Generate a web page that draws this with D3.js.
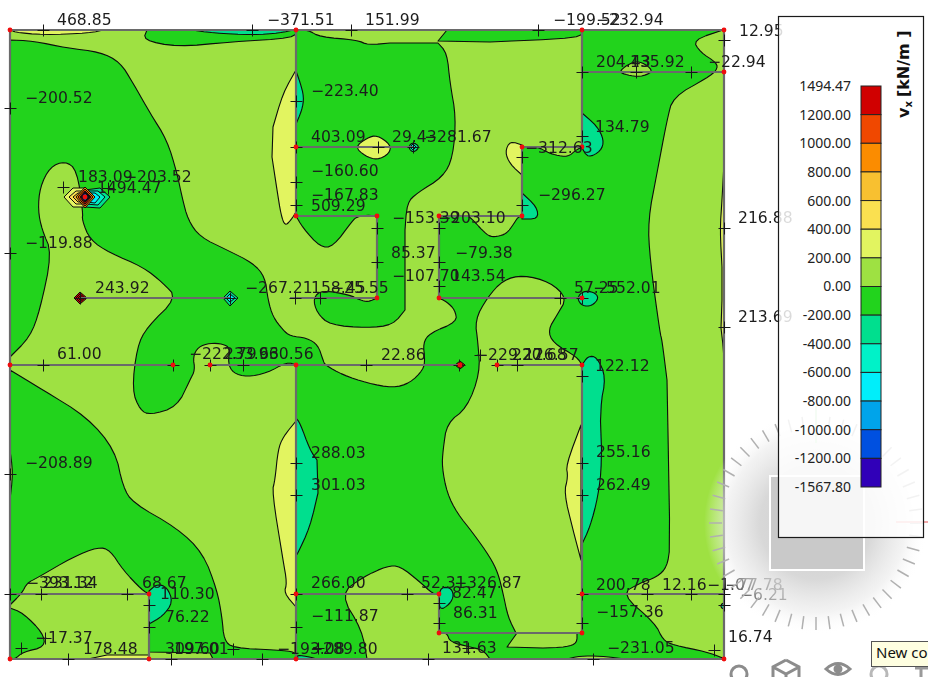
<!DOCTYPE html>
<html><head><meta charset="utf-8">
<script src="https://cdn.jsdelivr.net/npm/d3@7/dist/d3.min.js"></script>
<style>html,body{margin:0;padding:0;background:#fff;overflow:hidden}svg{display:block}</style>
</head><body><svg id="c" width="928" height="677"></svg>
<script>
// Model extent of the slab plan
const planWidth = 714, planHeight = 629;

// Legend: band limits (top to bottom) and colours of the 14 bands
const legendTicks = ["1494.47","1200.00","1000.00","800.00","600.00","400.00","200.00","0.00","-200.00","-400.00","-600.00","-800.00","-1000.00","-1200.00","-1567.80"];
const bandColors = ["#d00000","#f04800","#fb8c00","#f8c030","#fae050","#e2f460","#9ee142","#22d31d","#00df8e","#00f2c8","#00eefa","#00a4ea","#0050e0","#3000b8"];

// Isoband rings in plan coordinates, one list per band
const band_m200_0 = [
 [[0,10],[23,11],[57,18],[90,22],[110,32],[123,53],[140,83],[157,110],[167,143],[172,167],[178,190],[190,207],[217,220],[243,233],[255,247],[258,270],[263,287],[273,300],[280,306],[297,308],[308,315],[313,330],[315,335],[333,345],[357,353],[383,358],[400,353],[413,340],[415,330],[413,313],[420,303],[447,292],[445,280],[437,272],[429,268],[429,186],[458,186],[463,190],[472,200],[480,207],[490,206],[497,203],[503,195],[508,187],[512,186],[512,117],[528,117],[537,122],[545,125],[558,127],[566,120],[572,117],[572,0],[713,0],[683,10],[690,22],[707,33],[707,40],[697,48],[663,67],[657,90],[647,143],[638,190],[640,230],[650,303],[652,310],[657,350],[658,403],[660,517],[657,537],[647,547],[630,553],[611,564],[645,593],[653,610],[663,615],[697,622],[713,628],[714,629],[480,629],[473,620],[460,617],[440,612],[437,603],[429,603],[429,564],[423,564],[410,552],[390,536],[377,536],[353,547],[330,564],[352,600],[357,629],[286,629],[286,335],[277,332],[257,343],[237,347],[223,343],[218,333],[220,318],[213,314],[200,313],[188,317],[183,327],[185,340],[180,350],[167,377],[140,385],[130,380],[122,360],[127,317],[137,297],[167,268],[153,253],[133,237],[100,223],[80,210],[72,190],[73,183],[67,140],[55,131],[40,137],[30,157],[28,180],[32,200],[42,223],[30,280],[20,307],[0,327]],
 [[286,0],[298,0],[310,7],[347,10],[358,15],[380,13],[428,13],[437,23],[440,53],[446,87],[443,127],[433,147],[407,163],[397,173],[395,200],[395,280],[383,295],[357,298],[320,295],[307,283],[303,268],[312,260],[340,265],[350,270],[358,272],[367,268],[367,186],[357,185],[347,187],[343,190],[323,217],[310,217],[293,198],[286,186]],
 [[0,340],[33,360],[77,387],[105,420],[113,457],[123,473],[167,498],[193,523],[207,560],[212,587],[214,610],[223,618],[267,620],[286,622],[286,629],[203,629],[200,623],[139,622],[139,564],[132,560],[113,540],[100,520],[88,517],[63,527],[27,548],[17,553],[12,563],[0,575]],
 [[0,578],[13,583],[33,603],[35,617],[13,622],[5,629],[0,629]],
 [[137,0],[133,10],[167,17],[220,12],[285,8],[286,0]],
 [[437,0],[428,11],[480,12],[572,8],[572,0]]
];
const band_0_200 = [
 [[567,327],[543,313],[538,300],[547,285],[557,268],[540,252],[513,245],[493,250],[477,268],[465,290],[468,313],[470,343],[457,378],[437,393],[433,420],[432,437],[437,463],[447,483],[463,503],[480,527],[488,543],[493,563],[498,587],[506,603],[572,603],[572,335]],
 [[497,617],[507,603],[567,603],[567,613],[557,617],[533,618]],
 [[609,42],[617,35],[627,31],[637,35],[643,42],[630,47],[617,45]],
 [[0,420],[3,443],[0,470]],
 [[557,629],[570,626],[590,626],[615,629]]
];
const band_200_400 = [
 [[3,0],[3,2],[33,5],[80,3],[93,0]],
 [[286,40],[273,63],[263,97],[262,127],[267,160],[271,185],[275,196],[281,190],[286,182]],
 [[345,117],[357,108],[367,105],[381,115],[379,124],[367,130],[355,126]],
 [[512,115],[500,111],[495,122],[500,134],[512,145]],
 [[286,391],[273,407],[268,420],[265,450],[262,462],[273,530],[277,553],[274,563],[286,577]],
 [[571,395],[556,435],[558,447],[554,463],[563,500],[571,530]],
 [[714,133],[712,170],[710,200],[712,237],[712,270],[711,298],[713,315],[714,330]],
 [[78,629],[97,625],[139,625],[139,629]]
];
const band_m400_m200 = [
 [[182,0],[203,3],[243,5],[270,3],[283,0]],
 [[286,41],[290,52],[294,67],[292,80],[286,94]],
 [[398,117],[403,112],[410,117],[403,123]],
 [[572,83],[587,96],[594,110],[591,121],[578,128],[572,118]],
 [[512,163],[527,177],[528,189],[512,189]],
 [[567,268],[573,261],[584,262],[589,268],[582,276],[572,276]],
 [[572,335],[578,326],[587,327],[596,347],[590,377],[592,433],[588,467],[580,497],[572,514]],
 [[286,388],[290,393],[300,420],[307,430],[308,463],[300,497],[287,525],[286,525]],
 [[139,561],[147,554],[157,557],[163,572],[153,586],[139,594]],
 [[429,558],[440,557],[444,565],[440,574],[429,581]],
 [[287,625],[300,627],[307,629],[287,629]],
 [[710,576],[714,572],[714,580]]
];
// Peak at the column head (value, ring), outermost first
const peakRings = [
 [300,[[54,167],[63,158],[75,158],[75,177],[63,177]]],
 [500,[[59,167],[66,161],[75,161],[75,174],[66,174]]],
 [700,[[63,167],[68,163],[75,163],[75,172],[68,172]]],
 [-300,[[75,160],[90,158],[100,167],[90,178],[75,177]]],
 [-500,[[75,161],[88,161],[95,167],[88,175],[75,174]]],
 [-700,[[76,163],[85,163],[90,167],[85,173],[76,172]]],
 [900,[[66,167],[75,157],[85,167],[75,178]]],
 [1100,[[68,167],[75,159],[83,167],[75,176]]],
 [1300,[[70,167],[75,161],[81,167],[75,174]]],
 [-1400,[[71,167],[75,162],[80,167],[75,172]]],
 [-1100,[[72,167],[75,163],[79,167],[75,171]]],
 [-900,[[73,167],[75,165],[78,167],[75,169]]]
];
// Small node peaks (value, ring)
const nodePeaks = [
 [1300,[[64,268],[70,262],[77,268],[70,274]]],
 [1300,[[66,268],[70,264],[75,268],[70,272]]],
 [1300,[[68,268],[70,266],[73,268],[70,270]]],
 [-300,[[213,268],[220,261],[228,268],[220,276]]],
 [-700,[[216,268],[220,264],[225,268],[220,272]]],
 [-700,[[400,117],[403,114],[406,117],[403,120]]],
 [1300,[[445,335],[450,331],[455,335],[450,339]]],
 [1300,[[447,335],[450,333],[453,335],[450,337]]]
];

// Wall axes: [u1, v1, u2, v2]
const wallSegments = [
 [0,0,714,0],[0,629,714,629],[0,0,0,629],[714,0,714,629],
 [286,0,286,186],[286,335,286,629],[286,117,403,117],[286,186,367,186],[367,186,367,268],
 [280,268,367,268],[70,268,220,268],[429,186,429,268],[429,186,512,186],[512,117,512,186],
 [512,117,572,117],[572,0,572,117],[572,42,714,42],[429,268,572,268],
 [0,335,163,335],[200,335,450,335],[487,335,572,335],[572,335,572,603],
 [0,564,139,564],[139,564,139,629],[286,564,429,564],[429,564,429,603],[429,603,572,603],[572,564,714,564]
];
// Mesh points
const crossU = [33,242,0,53,286,286,286,286,98,341,528,403,368,512,512,572,572,714,626,681,714,714,0,70,220,285,33,163,200,233,310,367,367,429,429,429,356,449,470,487,507,550,572,572,0,286,286,0,31,117,139,139,11,58,161,252,223,35,286,286,397,429,429,418,572,572,572,572,637,681,714,714,704,583,458,308];
const crossV = [0,0,78,157,71,117,152,175,158,0,0,117,117,127,175,42,106,10,42,42,198,297,223,268,268,268,335,335,335,335,268,198,232,198,232,256,335,335,325,335,335,268,268,346,444,433,465,564,564,564,575,597,618,629,629,629,619,608,597,564,564,573,593,629,433,465,564,593,564,564,564,575,620,629,618,618];
const nodeU = [0,286,572,714,714,286,286,367,429,512,512,572,75,367,429,572,0,163,200,286,450,487,572,139,429,429,572,0,139,286,714,572,286];
const nodeV = [0,0,0,0,42,117,186,186,186,186,117,117,167,268,268,268,335,335,335,335,335,335,335,564,564,603,603,629,629,629,629,564,564];

// Result labels: text, left edge (plan u), baseline (plan v)
const labelText = ["468.85","−371.51","151.99","−199.52","−232.94","12.95","204.43","135.92","−22.94","−223.40","−200.52","403.09","29.43","−281.67","134.79","−312.63","−160.60","−167.83","509.29","183.09","−203.52","1494.47","−153.39","−203.10","−296.27","−119.88","85.37","−79.38","−107.70","143.54","243.92","−267.21","158.45","−25.55","57.25","−552.01","216.88","213.69","61.00","−222.79","233.96","630.56","22.86","−229.27","220.68","126.57","122.12","288.03","301.03","255.16","262.49","−208.89","−393.12","231.34","68.67","110.30","76.22","−17.37","178.48","309.60","197.01","−193.08","−289.80","266.00","−111.87","52.31","−326.87","82.47","86.31","131.63","200.78","12.16","−1.07","−77.78","−6.21","−157.36","16.74","−231.05"];
const labelU = [47,257,355,543,586,729,586,620,698,301,15,301,382,414,585,515,301,301,301,68,114,87,382,428,528,15,381,445,382,441,85,235,301,321,564,583,728,728,47,179,214,249,371,465,502,514,585,301,301,586,586,15,16,33,132,150,155,25,73,155,164,267,300,301,301,411,444,442,443,432,586,652,697,715,730,586,718,597];
const labelV = [-5,-5,-5,-5,-5,6,37,37,37,66,73,112,112,112,102,123,146,170,181,152,152,163,193,193,170,218,228,228,251,251,263,263,263,263,263,263,193,292,329,329,329,329,330,330,330,330,341,428,460,427,460,438,558,558,558,569,592,613,624,624,624,624,624,558,591,558,558,568,588,623,560,560,560,560,570,587,612,623];

const xPlan = d3.scaleLinear().domain([0, planWidth]).range([10, 724]);
const yPlan = d3.scaleLinear().domain([0, planHeight]).range([30, 659]);
const colorOf = d3.scaleThreshold()
  .domain([-1200,-1000,-800,-600,-400,-200,0,200,400,600,800,1000,1200])
  .range(bandColors.slice().reverse());
// Round the isolines between mesh points, leaving corners on walls sharp
function rounded(ring){
  let pts = ring;
  for (let pass = 0; pass < 2; pass++){
    const out = [];
    pts.forEach((p,i) => {
      const a = pts[(i+pts.length-1)%pts.length], b = pts[(i+1)%pts.length];
      const wall = q => (Math.abs(q[0]-p[0])<=1 || Math.abs(q[1]-p[1])<=1) && Math.hypot(q[0]-p[0],q[1]-p[1])>=25;
      if (wall(a) || wall(b)) out.push(p);
      else { out.push([p[0]+.25*(a[0]-p[0]),p[1]+.25*(a[1]-p[1])]); out.push([p[0]+.25*(b[0]-p[0]),p[1]+.25*(b[1]-p[1])]); }
    });
    pts = out;
  }
  return pts;
}
const linePath = d3.line().x(d => xPlan(d[0])).y(d => yPlan(d[1])).curve(d3.curveLinearClosed);
const ringPath = r => linePath(rounded(r));

const svg = d3.select("#c");
const defs = svg.append("defs");
const soft = defs.append("filter").attr("id","soft").attr("x",-0.02).attr("y",-0.02).attr("width",1.04).attr("height",1.04);
soft.append("feGaussianBlur").attr("stdDeviation",0.35);
const glow = defs.append("radialGradient").attr("id","glow");
[[0,"#cccccc",1],[0.5,"#d6d6d6",0.95],[0.8,"#ececec",0.65],[1,"#ffffff",0]].forEach(s =>
  glow.append("stop").attr("offset",s[0]).attr("stop-color",s[1]).attr("stop-opacity",s[2]));

const plan = svg.append("g").attr("filter","url(#soft)");
plan.append("rect").attr("x",xPlan(0)).attr("y",yPlan(0)).attr("width",xPlan(planWidth)-xPlan(0)).attr("height",yPlan(planHeight)-yPlan(0)).attr("fill",colorOf(100));

function drawBand(rings, value){
  plan.append("g").selectAll("path").data(rings).join("path")
    .attr("d", ringPath).attr("fill", colorOf(value))
    .attr("stroke","#0c0c0c").attr("stroke-width",1.1).attr("stroke-linejoin","round");
}
drawBand(band_m200_0,-100);
drawBand(band_0_200,100);
drawBand(band_200_400,300);
drawBand(band_m400_m200,-300);
plan.append("g").selectAll("path").data(peakRings.concat(nodePeaks)).join("path")
  .attr("d", d => linePath(d[1])).attr("fill", d => colorOf(d[0]))
  .attr("stroke","#0c0c0c").attr("stroke-width",1);

plan.append("g").selectAll("line").data(wallSegments).join("line")
  .attr("x1",d=>xPlan(d[0])).attr("y1",d=>yPlan(d[1])).attr("x2",d=>xPlan(d[2])).attr("y2",d=>yPlan(d[3]))
  .attr("stroke","#6a6a6a").attr("stroke-width",2.2);

const cross = plan.append("g").attr("stroke","#141414").attr("stroke-width",1);
cross.selectAll("path").data(d3.range(crossU.length)).join("path")
  .attr("d", i => { const x=Math.round(xPlan(crossU[i]))+.5, y=Math.round(yPlan(crossV[i]))+.5;
    return `M${x-6},${y}H${x+6}M${x},${y-6}V${y+6}`; });

plan.append("g").selectAll("circle").data(d3.range(nodeU.length)).join("circle")
  .attr("cx",i=>xPlan(nodeU[i])).attr("cy",i=>yPlan(nodeV[i])).attr("r",2.4).attr("fill","#f00808");

plan.append("g").attr("font-family","'DejaVu Sans'").attr("font-size",15.6).attr("fill","#1c1c1c")
  .selectAll("text").data(labelText).join("text")
  .attr("x",(d,i)=>xPlan(labelU[i])).attr("y",(d,i)=>yPlan(labelV[i])).text(d=>d);

// Navigation gizmo
const gizmo = svg.append("g");
gizmo.append("circle").attr("cx",816).attr("cy",523).attr("r",112).attr("fill","url(#glow)");
gizmo.append("g").attr("stroke","#b0b0b0").attr("stroke-width",1.5).selectAll("line").data(d3.range(0,360,7.5)).join("line")
  .attr("x1",a=>816+94*Math.cos(a*Math.PI/180)).attr("y1",a=>523+94*Math.sin(a*Math.PI/180))
  .attr("x2",a=>816+107*Math.cos(a*Math.PI/180)).attr("y2",a=>523+107*Math.sin(a*Math.PI/180));
gizmo.append("rect").attr("x",770).attr("y",476).attr("width",94).attr("height",94).attr("fill","#c9c9c9").attr("stroke","#fff").attr("stroke-width",2);
gizmo.append("line").attr("x1",816).attr("x2",816).attr("y1",406).attr("y2",443).attr("stroke","#bfe8bf").attr("stroke-width",2);
gizmo.append("line").attr("x1",896).attr("x2",928).attr("y1",522).attr("y2",522).attr("stroke","#f0a8a8").attr("stroke-width",2);

// Legend
const legend = svg.append("g");
legend.append("rect").attr("x",778.5).attr("y",16.5).attr("width",145).attr("height",521).attr("fill","#fff").attr("fill-opacity",0.84).attr("stroke","#1a1a1a").attr("stroke-width",1.2);
const legendY = d3.scalePoint().domain(legendTicks).range([86,487]);
legend.append("g").selectAll("rect").data(bandColors).join("rect")
  .attr("x",861).attr("width",20).attr("y",(d,i)=>legendY(legendTicks[i])).attr("height",(d,i)=>legendY(legendTicks[i+1])-legendY(legendTicks[i]))
  .attr("fill",d=>d).attr("stroke","#222").attr("stroke-width",1);
const legendAxis = legend.append("g").attr("transform","translate(851,0)").call(d3.axisLeft(legendY).tickSize(0).tickPadding(0));
legendAxis.select(".domain").remove();
legendAxis.selectAll("text").attr("font-family","'Noto Sans'").attr("font-size",14).attr("fill","#222");
const title = legend.append("text").attr("transform","translate(909,118) rotate(-90)").attr("font-family","'DejaVu Sans'").attr("font-weight","bold").attr("font-size",16).attr("fill","#111");
title.append("tspan").text("v");
title.append("tspan").attr("font-size",10).attr("dy",3).text("x");
title.append("tspan").attr("dy",-3).attr("dx",4).text("[kN/m ]");

// Window furniture: tool icons and tooltip
const tools = svg.append("g").attr("fill","none").attr("stroke","#8c8c8c").attr("stroke-width",3);
tools.append("circle").attr("cx",739).attr("cy",674).attr("r",8);
tools.append("path").attr("d","M786,660L799,667V680M786,660L773,667V680M773,667L786,674L799,667M786,674V680");
tools.append("path").attr("d","M826,669Q838,658 850,669Q838,680 826,669Z");
tools.append("circle").attr("cx",838).attr("cy",669).attr("r",3).attr("fill","#8c8c8c");
tools.append("circle").attr("cx",879).attr("cy",674).attr("r",8).attr("stroke","#b8b8b8");
tools.append("path").attr("d","M915,668H928M921,668V680").attr("stroke","#9a9a9a");
const tip = svg.append("g");
tip.append("rect").attr("x",871.5).attr("y",641.5).attr("width",70).attr("height",25).attr("fill","#ffffe1").attr("stroke","#555");
tip.append("text").attr("x",876).attr("y",658).attr("font-family","'Noto Sans'").attr("font-size",15).attr("fill","#111").text("New co");
</script></body></html>
